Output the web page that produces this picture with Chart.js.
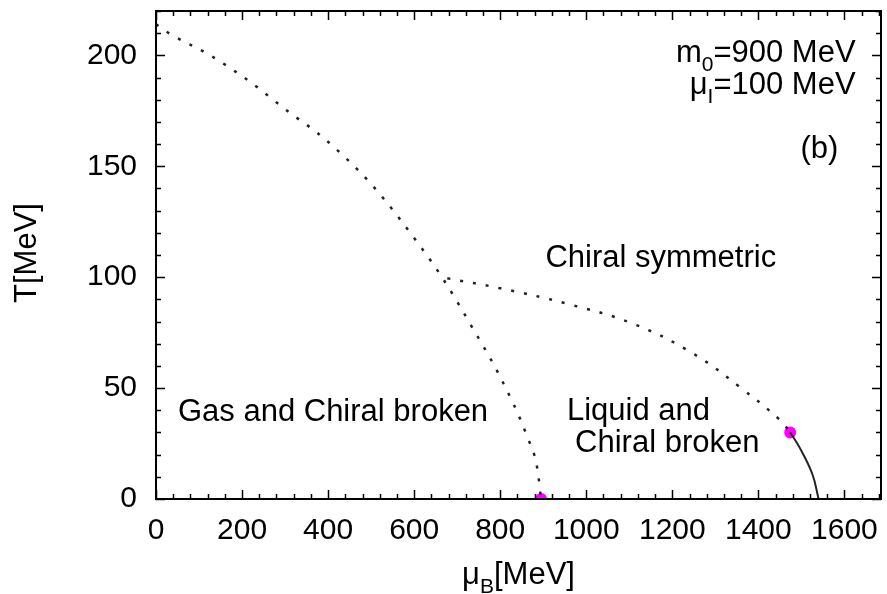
<!DOCTYPE html>
<html>
<head>
<meta charset="utf-8">
<script src="https://cdn.jsdelivr.net/npm/chart.js@4.4.1/dist/chart.umd.min.js"></script>
<style>
  html, body { margin: 0; padding: 0; background: #fff; }
  #wrap { width: 887px; height: 594px; position: relative; }
</style>
</head>
<body>
<div id="wrap"><canvas id="chart"></canvas></div>
<script>
// liquid-gas / chiral boundary (dotted, left branch)
const gasMu = [0, 30, 126, 219, 305, 388, 500, 614, 668, 730, 800, 863, 886, 895];
const gasT = [214, 210, 200, 188, 175, 163, 142, 114, 99, 79, 55, 28, 14, 0];
// chiral transition (dotted, right branch)
const chiralMu = [677, 800, 956, 1109, 1249, 1358, 1451, 1474];
const chiralT = [99.5, 95, 88, 79, 65.5, 50.3, 35.5, 30];
// first order part (solid)
const firstMu = [1474, 1495, 1525, 1540];
const firstT = [30, 23.5, 11.5, 0];
// critical points
const critMu = [895, 1474];
const critT = [0, 30];

const xTicks = [0, 200, 400, 600, 800, 1000, 1200, 1400, 1600];
const yTicks = [0, 50, 100, 150, 200];

const FONT = '"Liberation Sans", Arial, Helvetica, sans-serif';
const pts = (xs, ys) => xs.map((v, i) => ({x: v, y: ys[i]}));

function richText(ctx, parts, x, y, align) {
  const size = 31, subSize = 21;
  let w = 0;
  parts.forEach(p => {
    ctx.font = (p[1] ? subSize : size) + 'px ' + FONT;
    w += ctx.measureText(p[0]).width;
  });
  let cx = align === 'right' ? x - w : align === 'center' ? x - w / 2 : x;
  ctx.textAlign = 'left';
  ctx.textBaseline = 'alphabetic';
  parts.forEach(p => {
    ctx.font = (p[1] ? subSize : size) + 'px ' + FONT;
    ctx.fillText(p[0], cx, p[1] ? y + 9 : y);
    cx += ctx.measureText(p[0]).width;
  });
}

const frame = {
  id: 'frame',
  afterDraw(chart) {
    const {ctx, chartArea: a, scales: {x, y}} = chart;
    ctx.save();
    ctx.strokeStyle = '#000';
    ctx.lineWidth = 1.5;
    ctx.beginPath();
    for (let v = 0; v <= x.max; v += 40) {
      const px = Math.round(x.getPixelForValue(v)) + 0.5;
      const len = xTicks.includes(v) ? 9 : 5;
      ctx.moveTo(px, a.bottom); ctx.lineTo(px, a.bottom - len);
      ctx.moveTo(px, a.top); ctx.lineTo(px, a.top + len);
    }
    for (let v = 0; v <= y.max; v += 10) {
      const py = Math.round(y.getPixelForValue(v)) + 0.5;
      const len = yTicks.includes(v) ? 9 : 5;
      ctx.moveTo(a.left, py); ctx.lineTo(a.left + len, py);
      ctx.moveTo(a.right, py); ctx.lineTo(a.right - len, py);
    }
    ctx.stroke();
    ctx.lineWidth = 2;
    ctx.strokeRect(a.left, a.top, a.right - a.left, a.bottom - a.top);

    ctx.fillStyle = '#000';
    // region labels
    const L = (t, mu, T) => richText(ctx, [[t]], x.getPixelForValue(mu), y.getPixelForValue(T), 'left');
    L('Chiral symmetric', 905, 104.7);
    L('Gas and Chiral broken', 51, 35);
    L('Liquid and', 955, 35.5);
    L('Chiral broken', 974, 21.2);
    const R = x.getPixelForValue(1626);
    richText(ctx, [['m'], ['0', 1], ['=900 MeV']], R, y.getPixelForValue(196.8), 'right');
    richText(ctx, [['\u03bc'], ['I', 1], ['=100 MeV']], R, y.getPixelForValue(182.4), 'right');
    richText(ctx, [['(b)']], x.getPixelForValue(1542), y.getPixelForValue(153.6), 'center');

    // axis titles
    richText(ctx, [['\u03bc'], ['B', 1], ['[MeV]']], (a.left + a.right) / 2, 584, 'center');
    ctx.translate(36, 253);
    ctx.rotate(-Math.PI / 2);
    richText(ctx, [['T[MeV]']], 0, 0, 'center');
    ctx.restore();
  }
};

const tickFont = {family: FONT, size: 30};

new Chart(document.getElementById('chart'), {
  type: 'scatter',
  data: {
    datasets: [
      {data: pts(gasMu, gasT), showLine: true, borderColor: '#222', borderWidth: 2.5,
       borderDash: [3, 10], pointRadius: 0, tension: 0.4, cubicInterpolationMode: 'monotone'},
      {data: pts(chiralMu, chiralT), showLine: true, borderColor: '#222', borderWidth: 2.5,
       borderDash: [3, 10], pointRadius: 0, tension: 0.4},
      {data: pts(firstMu, firstT), showLine: true, borderColor: '#222', borderWidth: 2,
       pointRadius: 0, tension: 0.4},
      {data: pts(critMu, critT), showLine: false, pointRadius: 6, pointBackgroundColor: '#ff00ff',
       pointBorderWidth: 0, pointBorderColor: '#ff00ff'}
    ]
  },
  options: {
    responsive: true,
    maintainAspectRatio: false,
    animation: false,
    layout: {padding: {top: 11, right: 6, left: 0, bottom: 0}},
    plugins: {legend: {display: false}, tooltip: {enabled: false}},
    scales: {
      x: {
        type: 'linear', min: 0, max: 1685,
        grid: {display: false, drawTicks: false},
        border: {display: false},
        ticks: {font: tickFont, color: '#000', padding: 14, maxRotation: 0, callback: v => String(v)},
        afterBuildTicks: s => { s.ticks = xTicks.map(v => ({value: v})); },
        afterFit: s => { s.height = 95; s.paddingLeft = 0; s.paddingRight = 0; }
      },
      y: {
        type: 'linear', min: 0, max: 220,
        grid: {display: false, drawTicks: false},
        border: {display: false},
        ticks: {font: tickFont, color: '#000', padding: 19, callback: v => String(v)},
        afterBuildTicks: s => { s.ticks = yTicks.map(v => ({value: v})); },
        afterFit: s => { s.width = 156; s.paddingTop = 0; s.paddingBottom = 0; }
      }
    }
  },
  plugins: [frame]
});
</script>
</body>
</html>
